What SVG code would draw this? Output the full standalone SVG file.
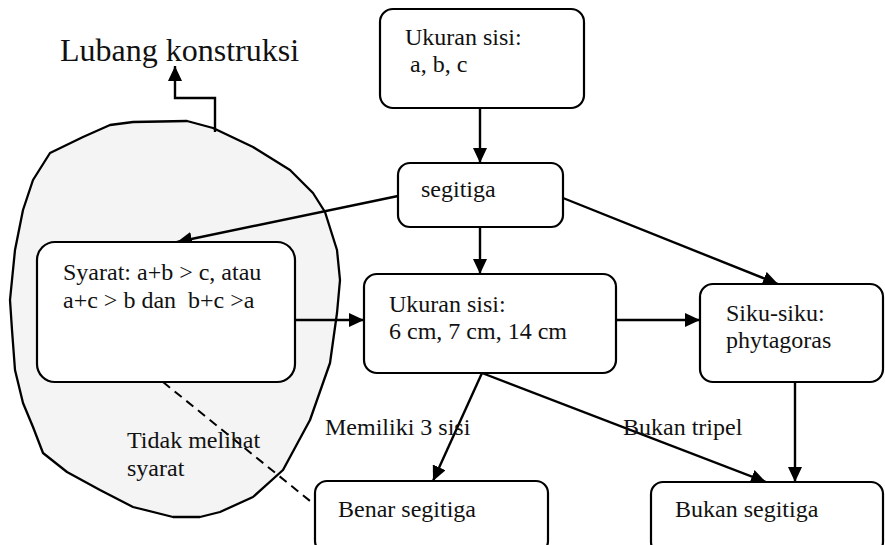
<svg xmlns="http://www.w3.org/2000/svg" width="885" height="545" viewBox="0 0 885 545">
  <defs>
    <marker id="arrow" markerUnits="userSpaceOnUse" markerWidth="16" markerHeight="14" refX="15" refY="7" orient="auto">
      <path d="M0,0 L15,7 L0,14 z" fill="#000"/>
    </marker>
    <style>
      text { font-family: "Liberation Serif", "Times New Roman", serif; fill: #111; }
      .lbl { font-size: 24px; }
      .big { font-size: 32px; }
      .box { fill: #fff; stroke: #000; stroke-width: 2.2; }
      .edge { fill: none; stroke: #000; stroke-width: 2.4; marker-end: url(#arrow); }
      .dash { fill: none; stroke: #000; stroke-width: 2; stroke-dasharray: 9 6; }
      .blob { fill: #f4f4f4; stroke: #000; stroke-width: 2.3; stroke-linejoin: round; }
    </style>
  </defs>
  <rect width="885" height="545" fill="#fff"/>

  <!-- construction-hole region -->
  <g id="lubang">
    <path class="blob" d="M187,121 L213,128 L253,147 L290,170 L313,193 L325,212 L337,250 L340,280 L337,313 L330,363 L310,420 L283,470 L253,497 L220,512 L200,517 L173,517 L133,507 L100,490 L67,472 L43,453 L33,427 L23,403 L15,370 L12,330 L10,300 L15,250 L23,210 L33,180 L50,153 L83,137 L110,125 L133,122 Z"/>
    <text class="big" x="60" y="61">Lubang konstruksi</text>
  </g>

  <!-- connectors -->
  <g id="connectors">
    <path class="edge" d="M215,132 L215,98 L175,98 L175,66"/>
    <line class="edge" x1="480" y1="108" x2="480" y2="163"/>
    <line class="edge" x1="398" y1="196" x2="177" y2="242"/>
    <line class="edge" x1="480" y1="227" x2="480" y2="274"/>
    <line class="edge" x1="563" y1="198" x2="778" y2="284"/>
    <line class="edge" x1="295" y1="320" x2="364" y2="320"/>
    <line class="edge" x1="616" y1="320" x2="700" y2="320"/>
    <line class="edge" x1="482" y1="373" x2="433" y2="481"/>
    <line class="edge" x1="482" y1="373" x2="766" y2="482"/>
    <line class="edge" x1="795" y1="382" x2="795" y2="482"/>
    <line class="dash" x1="163" y1="382" x2="315" y2="505"/>
    <text class="lbl" x="325" y="435">Memiliki 3 sisi</text>
    <text class="lbl" x="623" y="435">Bukan tripel</text>
    <text class="lbl" x="127" y="448">Tidak melihat</text>
    <text class="lbl" x="127" y="476">syarat</text>
  </g>

  <g id="ukuran-abc">
    <rect class="box" x="380" y="9" width="204" height="99" rx="13"/>
    <text class="lbl" x="405" y="45">Ukuran sisi:</text>
    <text class="lbl" x="410" y="72">a, b, c</text>
  </g>

  <g id="segitiga">
    <rect class="box" x="398" y="163" width="165" height="64" rx="12"/>
    <text class="lbl" x="421" y="197">segitiga</text>
  </g>

  <g id="syarat">
    <rect class="box" x="37" y="242" width="258" height="140" rx="18"/>
    <text class="lbl" x="63" y="280">Syarat: a+b &gt; c, atau</text>
    <text class="lbl" x="63" y="308" xml:space="preserve">a+c &gt; b dan  b+c &gt;a</text>
  </g>

  <g id="ukuran-cm">
    <rect class="box" x="364" y="274" width="252" height="99" rx="13"/>
    <text class="lbl" x="389" y="312">Ukuran sisi:</text>
    <text class="lbl" x="389" y="339">6 cm, 7 cm, 14 cm</text>
  </g>

  <g id="siku-siku">
    <rect class="box" x="700" y="284" width="183" height="98" rx="13"/>
    <text class="lbl" x="726" y="321">Siku-siku:</text>
    <text class="lbl" x="726" y="348">phytagoras</text>
  </g>

  <g id="benar-segitiga">
    <rect class="box" x="315" y="481" width="233" height="72" rx="12"/>
    <text class="lbl" x="338" y="517">Benar segitiga</text>
  </g>

  <g id="bukan-segitiga">
    <rect class="box" x="651" y="482" width="232" height="72" rx="12"/>
    <text class="lbl" x="675" y="517">Bukan segitiga</text>
  </g>
</svg>
